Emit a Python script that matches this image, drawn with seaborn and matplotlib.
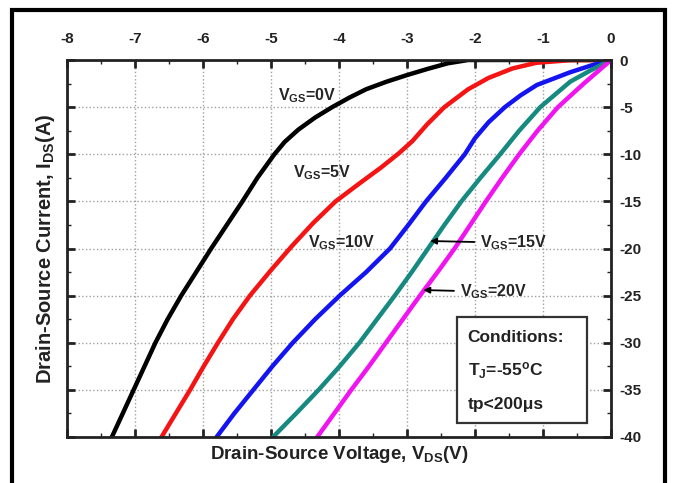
import numpy as np
import pandas as pd
import matplotlib
matplotlib.use("Agg")
import matplotlib.pyplot as plt
import seaborn as sns
from matplotlib.ticker import MultipleLocator
from matplotlib.patches import Rectangle

# ---- data ----
vgs_labels = ["0V", "5V", "10V", "15V", "20V"]
colors = ["#000000", "#f41414", "#1414f0", "#168a80", "#f014f0"]

vds_0 = [0.0, -1.5, -2.1, -2.4, -2.7, -3.0, -3.3, -3.6, -3.85, -4.1, -4.35, -4.6, -4.8,
         -4.95, -5.2, -5.42, -5.65, -5.88, -6.1, -6.32, -6.52, -6.7, -6.86, -7.02, -7.18, -7.34]
ids_0 = [0.0, 0.0, 0.0, -0.35, -0.95, -1.6, -2.3, -3.1, -4.0, -5.0, -6.1, -7.4, -8.7,
         -10.0, -12.5, -15.0, -17.5, -20.0, -22.5, -25.0, -27.5, -30.0, -32.5, -35.0, -37.5, -40.0]

vds_5 = [0.0, -0.6, -1.1, -1.45, -1.8, -2.1, -2.45, -2.7, -2.92, -3.12, -3.38, -3.7, -4.05,
         -4.38, -4.7, -5.0, -5.31, -5.56, -5.78, -5.99, -6.19, -6.4, -6.61]
ids_5 = [0.0, -0.02, -0.3, -0.9, -1.9, -3.1, -5.0, -6.8, -8.6, -9.9, -11.4, -13.1, -15.0,
         -17.3, -19.8, -22.3, -25.0, -27.5, -30.0, -32.5, -35.0, -37.5, -40.0]

vds_10 = [0.0, -0.3, -0.6, -1.09, -1.33, -1.56, -1.8, -2.0, -2.15, -2.43, -2.72, -2.98,
          -3.25, -3.6, -3.99, -4.35, -4.68, -4.98, -5.26, -5.54, -5.8]
ids_10 = [0.0, -0.6, -1.3, -2.65, -3.75, -5.0, -6.6, -8.3, -10.0, -12.5, -15.0, -17.5,
          -20.0, -22.5, -25.0, -27.5, -30.0, -32.5, -35.0, -37.5, -40.0]

vds_15 = [0.0, -0.3, -0.6, -1.04, -1.35, -1.63, -1.92, -2.2, -2.45, -2.69, -2.93, -3.18,
          -3.44, -3.7, -3.99, -4.3, -4.63, -4.97]
ids_15 = [0.0, -1.1, -2.3, -5.0, -7.5, -10.0, -12.5, -15.0, -17.5, -20.0, -22.5, -25.0,
          -27.5, -30.0, -32.5, -35.0, -37.5, -40.0]

vds_20 = [0.0, -0.4, -0.78, -1.08, -1.35, -1.6, -1.84, -2.07, -2.3, -2.55, -2.81, -3.06,
          -3.31, -3.56, -3.82, -4.07, -4.32]
ids_20 = [0.0, -2.5, -5.0, -7.5, -10.0, -12.5, -15.0, -17.5, -20.0, -22.5, -25.0, -27.5,
          -30.0, -32.5, -35.0, -37.5, -40.0]

x_ticks = [-8, -7, -6, -5, -4, -3, -2, -1, 0]
y_ticks = [0, -5, -10, -15, -20, -25, -30, -35, -40]

frames = []
for lab, xs, ys in zip(vgs_labels, [vds_0, vds_5, vds_10, vds_15, vds_20],
                       [ids_0, ids_5, ids_10, ids_15, ids_20]):
    frames.append(pd.DataFrame({"VDS": xs, "IDS": ys, "VGS": lab}))
df = pd.concat(frames, ignore_index=True)

sns.set_theme(style="white")
plt.rcParams["font.family"] = ["Liberation Sans", "DejaVu Sans"]
plt.rcParams["font.weight"] = "bold"
plt.rcParams["mathtext.fontset"] = "custom"
plt.rcParams["mathtext.rm"] = "Liberation Sans:bold"
plt.rcParams["mathtext.it"] = "Liberation Sans:bold"
plt.rcParams["mathtext.bf"] = "Liberation Sans:bold"

fig = plt.figure(figsize=(6.79, 4.83), dpi=100)
ax = fig.add_axes([67/679, 1-437/483, (611-67)/679, (437-60)/483])

sns.lineplot(data=df, x="VDS", y="IDS", hue="VGS", palette=dict(zip(vgs_labels, colors)),
             linewidth=3.2, ax=ax, legend=False, sort=False, estimator=None)
for ln in ax.lines:
    ln.set_solid_joinstyle("round")
    ln.set_solid_capstyle("round")

ax.set_xlim(-8, 0)
ax.set_ylim(-40, 0)
ax.set_xticks(x_ticks)
ax.set_yticks(y_ticks)
ax.set_xticklabels([str(v) for v in x_ticks])
ax.set_yticklabels([str(v) for v in y_ticks])
ax.xaxis.set_minor_locator(MultipleLocator(0.5))
ax.yaxis.set_minor_locator(MultipleLocator(2.5))
ax.tick_params(axis="both", which="both", direction="in", top=True, bottom=True,
               left=True, right=True, labeltop=True, labelbottom=False,
               labelleft=False, labelright=True, labelsize=11, colors="#222222")
ax.tick_params(which="major", length=6, width=2)
ax.tick_params(which="minor", length=3, width=1)
ax.tick_params(axis="x", pad=10)
ax.tick_params(axis="y", pad=6)
for s in ax.spines.values():
    s.set_linewidth(2.0)
    s.set_color("#222222")
ax.grid(True, which="major", linestyle=":", color="#a0a0a0", linewidth=1.0)
ax.set_axisbelow(True)

ax.set_xlabel("Drain-Source Voltage, V$_{\\mathrm{DS}}$(V)", fontsize=13.5, fontweight="bold",
              labelpad=5, color="#222222")
ax.set_ylabel("Drain-Source Current, I$_{\\mathrm{DS}}$(A)", fontsize=14.5, fontweight="bold",
              labelpad=7, color="#222222")

fs = 11.5
ax.text(-4.9, -3.8, "V$_{\\mathrm{GS}}$=0V", fontsize=fs, fontweight="bold", ha="left", va="center")
ax.text(-4.68, -11.9, "V$_{\\mathrm{GS}}$=5V", fontsize=fs, fontweight="bold", ha="left", va="center")
ax.text(-4.46, -19.4, "V$_{\\mathrm{GS}}$=10V", fontsize=fs, fontweight="bold", ha="left", va="center")
ax.annotate("V$_{\\mathrm{GS}}$=15V", xy=(-2.7, -19.2), xytext=(-1.92, -19.4),
            fontsize=fs, fontweight="bold", ha="left", va="center",
            arrowprops=dict(arrowstyle="-|>", color="black", lw=1.3, mutation_scale=9))
ax.annotate("V$_{\\mathrm{GS}}$=20V", xy=(-2.8, -24.4), xytext=(-2.22, -24.6),
            fontsize=fs, fontweight="bold", ha="left", va="center",
            arrowprops=dict(arrowstyle="-|>", color="black", lw=1.3, mutation_scale=9))

# Conditions box
ax.add_patch(Rectangle((-2.26, -38.5), 1.91, 11.2, facecolor="white", edgecolor="#333333",
                       lw=1.6, zorder=5))
ax.text(-2.11, -29.4, "Conditions:", fontsize=12.5, fontweight="bold", ha="left",
        va="center", zorder=6, color="#222222")
ax.text(-2.11, -33.0, "T$_{\\mathrm{J}}$=-55$^{\\mathrm{o}}$C", fontsize=12.5, fontweight="bold",
        ha="left", va="center", zorder=6, color="#222222")
ax.text(-2.11, -36.6, "tp<200\u03bcs", fontsize=12.5, fontweight="bold", ha="left",
        va="center", zorder=6, color="#222222")

fig.patches.append(Rectangle((12/679, -0.02), (665-12)/679, 1-10/483+0.02,
                             transform=fig.transFigure, fill=False, edgecolor="black",
                             linewidth=3, zorder=10))

fig.savefig("out.png", dpi=100, facecolor="white")
